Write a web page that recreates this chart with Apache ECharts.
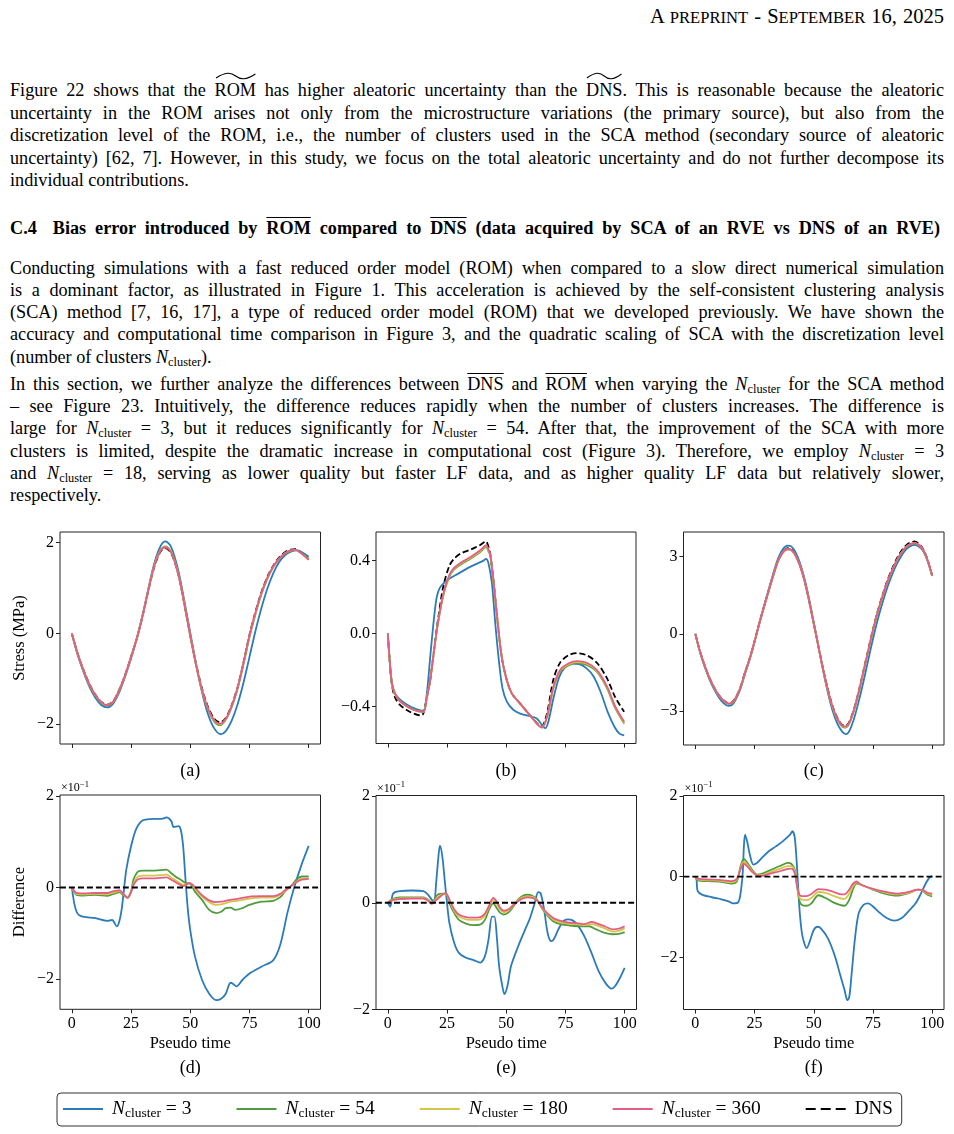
<!DOCTYPE html>
<html>
<head>
<meta charset="utf-8">
<script src="https://cdn.jsdelivr.net/npm/echarts@6/dist/echarts.min.js"></script>
<style>
  body { margin: 0; background: #fff; }
  .page { position: relative; width: 954px; height: 1134px; font-family: "Liberation Serif", "DejaVu Serif", serif; color: #000; }
  .ln { position: absolute; left: 10px; height: 23px; line-height: 23px; font-size: 18.2px; white-space: nowrap; }
  .hd { position: absolute; left: 650px; top: 4px; font-size: 20.5px; white-space: nowrap; line-height: 24px; }
  .hd .sc { font-size: 16.6px; }
  .wt { position: relative; display: inline-block; }
  .wt svg { position: absolute; left: 0; top: -7px; width: 100%; height: 8px; }
  .ol { text-decoration: overline; text-decoration-thickness: 1px; }
  sub { font-size: 0.68em; vertical-align: -0.25em; line-height: 0; }
  #chart { position: absolute; left: 0; top: 520px; width: 954px; height: 614px; }
</style>
</head>
<body>
<div class="page">
  <div class="hd j" data-w="294"><span>A <span class="sc">PREPRINT</span> - S<span class="sc">EPTEMBER</span> 16, 2025</span></div>

  <div class="ln j" style="top:79px"><span>Figure 22 shows that the <span class="wt">ROM<svg viewBox="0 0 40 8" preserveAspectRatio="none"><path d="M1,6 C10,0 15,0 20,4 C25,8 30,8 39,2" fill="none" stroke="#000" stroke-width="1.1"/></svg></span> has higher aleatoric uncertainty than the <span class="wt">DNS<svg viewBox="0 0 40 8" preserveAspectRatio="none"><path d="M1,6 C10,0 15,0 20,4 C25,8 30,8 39,2" fill="none" stroke="#000" stroke-width="1.1"/></svg></span>. This is reasonable because the aleatoric</span></div>
  <div class="ln j" style="top:102px"><span>uncertainty in the ROM arises not only from the microstructure variations (the primary source), but also from the</span></div>
  <div class="ln j" style="top:124px"><span>discretization level of the ROM, i.e., the number of clusters used in the SCA method (secondary source of aleatoric</span></div>
  <div class="ln j" style="top:147px"><span>uncertainty) [62, 7]. However, in this study, we focus on the total aleatoric uncertainty and do not further decompose its</span></div>
  <div class="ln" style="top:169px"><span>individual contributions.</span></div>

  <div class="ln j" data-w="930" style="top:217px;font-weight:bold"><span>C.4<span style="display:inline-block;width:16px"></span>Bias error introduced by <span class="ol">ROM</span> compared to <span class="ol">DNS</span> (data acquired by SCA of an RVE vs DNS of an RVE)</span></div>

  <div class="ln j" style="top:257px"><span>Conducting simulations with a fast reduced order model (ROM) when compared to a slow direct numerical simulation</span></div>
  <div class="ln j" style="top:279px"><span>is a dominant factor, as illustrated in Figure 1. This acceleration is achieved by the self-consistent clustering analysis</span></div>
  <div class="ln j" style="top:301px"><span>(SCA) method [7, 16, 17], a type of reduced order model (ROM) that we developed previously. We have shown the</span></div>
  <div class="ln j" style="top:323px"><span>accuracy and computational time comparison in Figure 3, and the quadratic scaling of SCA with the discretization level</span></div>
  <div class="ln" style="top:346px"><span>(number of clusters <i>N</i><sub>cluster</sub>).</span></div>

  <div class="ln j" style="top:373px"><span>In this section, we further analyze the differences between <span class="ol">DNS</span> and <span class="ol">ROM</span> when varying the <i>N</i><sub>cluster</sub> for the SCA method</span></div>
  <div class="ln j" style="top:395px"><span>– see Figure 23. Intuitively, the difference reduces rapidly when the number of clusters increases. The difference is</span></div>
  <div class="ln j" style="top:417px"><span>large for <i>N</i><sub>cluster</sub> = 3, but it reduces significantly for <i>N</i><sub>cluster</sub> = 54. After that, the improvement of the SCA with more</span></div>
  <div class="ln j" style="top:440px"><span>clusters is limited, despite the dramatic increase in computational cost (Figure 3). Therefore, we employ <i>N</i><sub>cluster</sub> = 3</span></div>
  <div class="ln j" style="top:462px"><span>and <i>N</i><sub>cluster</sub> = 18, serving as lower quality but faster LF data, and as higher quality LF data but relatively slower,</span></div>
  <div class="ln" style="top:484px"><span>respectively.</span></div>

  <div id="chart"></div>
</div>

<script>
// ---- data (x = pseudo time, y = stress in MPa / difference in 1e-1) ----

// (a)
const aBlue = [[0,0],[2.5,-0.48],[5,-0.86],[7.5,-1.18],[10,-1.42],[12.5,-1.58],[15,-1.63],[17.5,-1.54],[20,-1.3],[22.5,-0.95],[25,-0.55],[27.5,-0.1],[30,0.43],[32.5,1.03],[35,1.58],[37.5,1.93],[39.5,2.03],[42,1.9],[45,1.38],[47.5,0.72],[50,0.02],[52.5,-0.68],[55,-1.3],[57.5,-1.78],[60,-2.08],[62.8,-2.22],[65,-2.15],[67.5,-1.92],[70,-1.56],[72.5,-1.08],[75,-0.52],[77.5,0.05],[80,0.55],[82.5,0.98],[85,1.32],[87.5,1.57],[90,1.72],[92.5,1.8],[95,1.83],[97.5,1.78],[100,1.69]]
const aGreen = [[0,0],[2.5,-0.46],[5,-0.83],[7.5,-1.14],[10,-1.37],[12.5,-1.53],[15,-1.59],[17.5,-1.51],[20,-1.26],[22.5,-0.93],[25,-0.52],[27.5,-0.09],[30,0.43],[32.5,1.01],[35,1.54],[37.5,1.85],[39.5,1.92],[42,1.8],[45,1.31],[47.5,0.66],[50,-0.05],[52.5,-0.71],[55,-1.27],[57.5,-1.68],[60,-1.93],[62.5,-2.02],[65,-1.9],[67.5,-1.62],[70,-1.21],[72.5,-0.67],[75,-0.08],[77.5,0.42],[80,0.86],[82.5,1.2],[85,1.46],[87.5,1.64],[90,1.76],[92.5,1.82],[94.5,1.84],[97,1.77],[100,1.64]]
const aYellow = [[0,0],[2.5,-0.45],[5,-0.82],[7.5,-1.13],[10,-1.36],[12.5,-1.52],[15,-1.58],[17.5,-1.5],[20,-1.25],[22.5,-0.92],[25,-0.52],[27.5,-0.1],[30,0.42],[32.5,1.0],[35,1.53],[37.5,1.84],[39.5,1.91],[42,1.79],[45,1.3],[47.5,0.65],[50,-0.05],[52.5,-0.7],[55,-1.26],[57.5,-1.66],[60,-1.91],[62.5,-2.0],[65,-1.89],[67.5,-1.61],[70,-1.2],[72.5,-0.66],[75,-0.06],[77.5,0.44],[80,0.87],[82.5,1.21],[85,1.47],[87.5,1.65],[90,1.77],[92.5,1.83],[94.5,1.84],[97,1.76],[100,1.63]]
const aPink = [[0,0],[2.5,-0.45],[5,-0.82],[7.5,-1.13],[10,-1.36],[12.5,-1.52],[15,-1.58],[17.5,-1.5],[20,-1.25],[22.5,-0.92],[25,-0.52],[27.5,-0.1],[30,0.42],[32.5,1.0],[35,1.52],[37.5,1.83],[39.5,1.9],[42,1.78],[45,1.3],[47.5,0.65],[50,-0.05],[52.5,-0.7],[55,-1.25],[57.5,-1.65],[60,-1.9],[62.5,-1.99],[65,-1.88],[67.5,-1.6],[70,-1.2],[72.5,-0.65],[75,-0.05],[77.5,0.45],[80,0.88],[82.5,1.22],[85,1.47],[87.5,1.65],[90,1.77],[92.5,1.83],[94.5,1.84],[97,1.76],[100,1.62]]
const aDns = [[0,0],[2.5,-0.45],[5,-0.81],[7.5,-1.12],[10,-1.35],[12.5,-1.51],[15,-1.57],[17.5,-1.49],[20,-1.24],[22.5,-0.91],[25,-0.51],[27.5,-0.1],[30,0.41],[32.5,0.99],[35,1.5],[37.5,1.81],[39.5,1.88],[42,1.76],[45,1.29],[47.5,0.65],[50,-0.04],[52.5,-0.68],[55,-1.22],[57.5,-1.62],[60,-1.87],[62.5,-1.96],[65,-1.86],[67.5,-1.58],[70,-1.18],[72.5,-0.63],[75,-0.03],[77.5,0.47],[80,0.9],[82.5,1.24],[85,1.49],[87.5,1.67],[90,1.79],[92.5,1.85],[94.5,1.86],[97,1.78],[100,1.64]]

// (b)
const bBlue = [[0,0],[0.8,-0.15],[1.7,-0.27],[3,-0.33],[5,-0.36],[8,-0.39],[11,-0.41],[15,-0.425],[16.5,-0.33],[18,-0.12],[19.5,0.08],[20.7,0.2],[22,0.25],[24,0.28],[26,0.3],[30,0.33],[34,0.36],[38,0.385],[40.5,0.4],[41.5,0.41],[42.5,0.39],[44,0.28],[45.5,0.05],[47,-0.15],[48.5,-0.3],[50.4,-0.375],[53.2,-0.42],[56,-0.44],[58.8,-0.45],[63,-0.467],[66.6,-0.52],[68,-0.48],[70,-0.36],[72.5,-0.24],[75,-0.185],[78,-0.165],[81,-0.168],[84,-0.19],[87,-0.235],[90,-0.32],[93,-0.43],[96,-0.515],[98,-0.55],[100,-0.56]]
const bGreen = [[0,0],[0.8,-0.15],[1.7,-0.27],[3,-0.33],[5,-0.37],[8,-0.4],[11,-0.42],[15,-0.43],[16.5,-0.35],[18,-0.25],[20,-0.05],[21.5,0.08],[23.5,0.21],[26,0.31],[28,0.35],[31,0.38],[35,0.41],[39,0.445],[41.7,0.475],[42.6,0.45],[43.3,0.43],[44.7,0.28],[46.1,0.1],[48.2,-0.13],[50.4,-0.26],[52.5,-0.33],[56,-0.385],[60.2,-0.45],[65.2,-0.515],[67.3,-0.46],[70.1,-0.3],[72.9,-0.21],[76.4,-0.175],[80,-0.163],[84.2,-0.172],[88.4,-0.21],[92.7,-0.3],[96.2,-0.41],[100,-0.495]]
const bYellow = [[0,0],[0.8,-0.15],[1.7,-0.27],[3,-0.33],[5,-0.37],[8,-0.4],[11,-0.42],[15,-0.43],[16.5,-0.35],[18,-0.25],[20,-0.05],[21.5,0.08],[23.5,0.215],[26,0.315],[28,0.355],[31,0.385],[35,0.415],[39,0.45],[41.7,0.48],[42.6,0.455],[43.3,0.435],[44.7,0.285],[46.1,0.105],[48.2,-0.13],[50.4,-0.26],[52.5,-0.33],[56,-0.385],[60.2,-0.45],[65.2,-0.516],[67.3,-0.46],[70.1,-0.295],[72.9,-0.205],[76.4,-0.17],[80,-0.157],[84.2,-0.166],[88.4,-0.205],[92.7,-0.295],[96.2,-0.405],[100,-0.49]]
const bPink = [[0,0],[0.8,-0.15],[1.7,-0.27],[3,-0.33],[5,-0.37],[8,-0.4],[11,-0.42],[15,-0.43],[16.5,-0.35],[18,-0.25],[20,-0.05],[21.5,0.08],[23.5,0.22],[26,0.32],[28,0.36],[31,0.39],[35,0.42],[39,0.455],[41.7,0.485],[42.6,0.46],[43.3,0.44],[44.7,0.29],[46.1,0.11],[48.2,-0.13],[50.4,-0.26],[52.5,-0.33],[56,-0.385],[60.2,-0.45],[65.2,-0.517],[67.3,-0.46],[70.1,-0.29],[72.9,-0.2],[76.4,-0.165],[80,-0.152],[84.2,-0.161],[88.4,-0.2],[92.7,-0.29],[96.2,-0.4],[100,-0.485]]
const bDns = [[0,0],[0.8,-0.15],[1.7,-0.28],[3,-0.35],[5,-0.39],[8,-0.42],[11,-0.44],[14,-0.45],[15,-0.44],[16.5,-0.35],[18,-0.25],[20,-0.04],[21.5,0.1],[23.5,0.26],[26,0.37],[28,0.41],[31,0.44],[35,0.46],[39,0.485],[41.5,0.505],[42.5,0.48],[43.3,0.44],[44.7,0.29],[46.1,0.11],[48.2,-0.13],[50.4,-0.26],[52.5,-0.33],[56,-0.385],[60.2,-0.45],[65,-0.51],[67.3,-0.44],[70.1,-0.25],[72.9,-0.16],[76.4,-0.12],[80,-0.108],[84.2,-0.12],[88.4,-0.16],[92.7,-0.245],[96.2,-0.35],[100,-0.43]]

// (c)
const cBlue = [[0,0],[2,-0.72],[4,-1.3],[6,-1.78],[8,-2.17],[10,-2.48],[12,-2.7],[14,-2.8],[15.5,-2.76],[17,-2.56],[19,-2.15],[21,-1.55],[23,-0.98],[25,-0.32],[27,0.4],[29,1.08],[31,1.74],[33,2.38],[35,2.95],[37,3.3],[39,3.43],[40.5,3.4],[42,3.22],[44,2.8],[46,2.18],[48,1.38],[50,0.45],[52,-0.5],[54,-1.45],[56,-2.3],[58,-3.0],[60,-3.5],[62,-3.8],[63.5,-3.9],[65,-3.78],[67,-3.3],[69,-2.62],[71,-1.85],[73,-1.02],[75,-0.2],[77,0.55],[79,1.2],[81,1.78],[83,2.28],[85,2.7],[87,3.03],[89,3.28],[91,3.42],[92.5,3.46],[94,3.42],[96,3.25],[98,2.85],[100,2.25]]
const cGreen = [[0,0],[2,-0.7],[4,-1.26],[6,-1.73],[8,-2.11],[10,-2.41],[12,-2.61],[14,-2.72],[15.5,-2.69],[17,-2.51],[19,-2.11],[21,-1.51],[23,-0.96],[25,-0.31],[27,0.39],[29,1.04],[31,1.67],[33,2.29],[35,2.84],[37,3.17],[39,3.29],[40.5,3.26],[42,3.09],[44,2.69],[46,2.09],[48,1.29],[50,0.39],[52,-0.51],[54,-1.42],[56,-2.22],[58,-2.88],[60,-3.34],[62,-3.6],[63.5,-3.64],[65,-3.49],[67,-2.98],[69,-2.28],[71,-1.48],[73,-0.68],[75,0.12],[77,0.83],[79,1.43],[81,1.98],[83,2.44],[85,2.84],[87,3.14],[89,3.37],[91,3.49],[92.5,3.52],[94,3.47],[96,3.29],[98,2.87],[100,2.26]]
const cYellow = [[0,0],[2,-0.7],[4,-1.25],[6,-1.72],[8,-2.1],[10,-2.4],[12,-2.6],[14,-2.71],[15.5,-2.68],[17,-2.5],[19,-2.1],[21,-1.5],[23,-0.95],[25,-0.3],[27,0.4],[29,1.05],[31,1.68],[33,2.3],[35,2.85],[37,3.18],[39,3.3],[40.5,3.27],[42,3.1],[44,2.7],[46,2.1],[48,1.3],[50,0.4],[52,-0.5],[54,-1.41],[56,-2.21],[58,-2.86],[60,-3.32],[62,-3.58],[63.5,-3.62],[65,-3.47],[67,-2.96],[69,-2.26],[71,-1.46],[73,-0.66],[75,0.14],[77,0.84],[79,1.44],[81,1.99],[83,2.45],[85,2.85],[87,3.15],[89,3.38],[91,3.5],[92.5,3.53],[94,3.48],[96,3.3],[98,2.88],[100,2.26]]
const cPink = [[0,0],[2,-0.7],[4,-1.25],[6,-1.72],[8,-2.1],[10,-2.4],[12,-2.6],[14,-2.71],[15.5,-2.68],[17,-2.5],[19,-2.1],[21,-1.5],[23,-0.95],[25,-0.3],[27,0.4],[29,1.05],[31,1.68],[33,2.3],[35,2.85],[37,3.18],[39,3.3],[40.5,3.27],[42,3.1],[44,2.7],[46,2.1],[48,1.3],[50,0.4],[52,-0.5],[54,-1.4],[56,-2.2],[58,-2.85],[60,-3.3],[62,-3.57],[63.5,-3.6],[65,-3.45],[67,-2.95],[69,-2.25],[71,-1.45],[73,-0.65],[75,0.15],[77,0.85],[79,1.45],[81,2.0],[83,2.45],[85,2.85],[87,3.15],[89,3.38],[91,3.5],[92.5,3.53],[94,3.48],[96,3.3],[98,2.88],[100,2.26]]
const cDns = [[0,0],[2,-0.69],[4,-1.24],[6,-1.71],[8,-2.09],[10,-2.39],[12,-2.59],[14,-2.69],[15.5,-2.66],[17,-2.48],[19,-2.08],[21,-1.48],[23,-0.93],[25,-0.28],[27,0.42],[29,1.07],[31,1.7],[33,2.32],[35,2.87],[37,3.2],[39,3.33],[40.5,3.3],[42,3.12],[44,2.72],[46,2.11],[48,1.31],[50,0.41],[52,-0.49],[54,-1.38],[56,-2.17],[58,-2.82],[60,-3.27],[62,-3.54],[63.5,-3.57],[65,-3.42],[67,-2.92],[69,-2.22],[71,-1.42],[73,-0.62],[75,0.18],[77,0.88],[79,1.49],[81,2.05],[83,2.51],[85,2.91],[87,3.22],[89,3.44],[91,3.56],[92.5,3.59],[94,3.53],[96,3.33],[98,2.9],[100,2.27]]

// (d) difference x1e-1
const dBlue = [[0,0],[1,-0.34],[2,-0.53],[3,-0.6],[5,-0.64],[10,-0.67],[15,-0.73],[17,-0.71],[19,-0.85],[20,-0.75],[21,-0.49],[22,-0.05],[23,0.39],[25,0.9],[27,1.26],[29,1.43],[31,1.48],[35,1.5],[38,1.5],[40,1.53],[42,1.45],[43,1.32],[45,1.34],[46,1.26],[47,0.9],[48,0.17],[49,-0.49],[50,-0.93],[52,-1.51],[55,-2.02],[58,-2.32],[61,-2.46],[63,-2.43],[65,-2.32],[67,-2.08],[68,-2.1],[69.5,-2.16],[72,-2.02],[75,-1.88],[80,-1.73],[85,-1.59],[88,-1.25],[91,-0.56],[94,0.02],[97,0.5],[100,0.91]]
const dGreen = [[0,0],[2,-0.16],[5,-0.175],[10,-0.16],[15,-0.18],[17,-0.15],[19,-0.12],[20,-0.1],[22,-0.18],[23.5,-0.23],[25,-0.09],[26,0.17],[27,0.28],[28,0.35],[30,0.37],[35,0.37],[40,0.39],[42,0.31],[44,0.23],[46,0.17],[48,0.1],[50,0.08],[52,-0.09],[55,-0.27],[58,-0.49],[61,-0.56],[63,-0.53],[65,-0.45],[67,-0.44],[69,-0.49],[72,-0.45],[75,-0.38],[80,-0.31],[85,-0.29],[88,-0.21],[90,-0.09],[93,0.06],[95,0.18],[97,0.24],[100,0.24]]
const dYellow = [[0,0],[2,-0.14],[5,-0.15],[10,-0.14],[15,-0.15],[17,-0.12],[19,-0.09],[20,-0.08],[22,-0.16],[23.5,-0.22],[25,-0.1],[26,0.07],[27,0.18],[28,0.24],[30,0.26],[35,0.26],[40,0.28],[42,0.22],[45,0.12],[47,0.06],[48,0.06],[49.5,0.1],[51,0.05],[52,-0.02],[55,-0.2],[58,-0.32],[61,-0.38],[63,-0.37],[65,-0.34],[67,-0.31],[70,-0.29],[75,-0.24],[80,-0.22],[85,-0.22],[88,-0.16],[90,-0.08],[93,0.05],[95,0.13],[97,0.19],[100,0.21]]
const dPink = [[0,0],[2,-0.12],[5,-0.13],[10,-0.12],[15,-0.12],[17,-0.09],[19,-0.07],[20,-0.06],[22,-0.15],[23.5,-0.22],[25,-0.1],[26,0.05],[27,0.13],[28,0.18],[30,0.2],[35,0.2],[40,0.22],[42,0.17],[45,0.08],[47,0.03],[48,0.05],[49.5,0.1],[51,0.06],[52,0.0],[55,-0.17],[58,-0.28],[61,-0.32],[63,-0.31],[65,-0.29],[67,-0.27],[70,-0.25],[75,-0.2],[80,-0.19],[85,-0.19],[88,-0.14],[90,-0.06],[93,0.05],[95,0.12],[97,0.17],[100,0.19]]

// (e)
const eBlue = [[0,0],[1,-0.07],[2,0.15],[3,0.2],[5,0.22],[10,0.23],[15,0.22],[17,0.15],[18.5,0.06],[19.5,0.025],[20.5,0.43],[21.5,0.93],[22,1.07],[23,0.87],[24,0.43],[25,-0.01],[26,-0.38],[28,-0.75],[30,-0.94],[33,-1.03],[36,-1.07],[39,-1.12],[41,-1.0],[42.5,-0.69],[44,-0.26],[45,-0.26],[46,-0.63],[47,-1.19],[48.5,-1.6],[49.2,-1.71],[50.5,-1.56],[52,-1.19],[55,-0.82],[58,-0.5],[60,-0.29],[62,-0.01],[63.5,0.2],[64.5,0.18],[66,-0.13],[67.5,-0.57],[69,-0.72],[70,-0.69],[72,-0.5],[74,-0.35],[76,-0.31],[78,-0.33],[80,-0.41],[83,-0.63],[86,-0.94],[89,-1.28],[92,-1.51],[94.5,-1.61],[96,-1.56],[98,-1.41],[100,-1.22]]
const eGreen = [[0,0],[2,0.07],[5,0.1],[10,0.1],[15,0.1],[17,0.06],[18.5,0.0],[19.5,0.05],[21,0.15],[23,0.17],[24.5,0.17],[26,-0.01],[28,-0.19],[30,-0.32],[33,-0.39],[36,-0.42],[39,-0.41],[41,-0.32],[43,-0.1],[44.5,-0.01],[46,-0.1],[47.5,-0.19],[49,-0.22],[51,-0.18],[53,-0.07],[55,0.06],[57,0.13],[59,0.15],[61,0.13],[63,0.06],[65,-0.1],[67,-0.22],[70,-0.35],[73,-0.4],[76,-0.42],[80,-0.44],[85,-0.44],[88,-0.5],[92,-0.57],[95,-0.59],[98,-0.58],[100,-0.55]]
const eYellow = [[0,0],[2,0.06],[5,0.08],[10,0.09],[15,0.09],[17,0.05],[18.5,-0.01],[19.5,0.03],[21,0.1],[23,0.16],[24.5,0.17],[26,0.03],[28,-0.15],[30,-0.26],[33,-0.31],[36,-0.32],[39,-0.31],[41,-0.24],[43,-0.05],[44.5,0.05],[46,-0.02],[47.5,-0.13],[49,-0.18],[51,-0.14],[53,-0.05],[55,0.04],[57,0.1],[59,0.12],[61,0.11],[63,0.05],[65,-0.09],[67,-0.2],[70,-0.32],[73,-0.37],[76,-0.39],[80,-0.4],[83,-0.42],[86,-0.4],[88,-0.42],[92,-0.49],[95,-0.54],[98,-0.52],[100,-0.48]]
const ePink = [[0,0],[2,0.05],[5,0.07],[10,0.08],[15,0.08],[17,0.04],[18.5,-0.02],[19.5,0.02],[21,0.07],[23,0.15],[24.5,0.18],[26,0.06],[28,-0.12],[30,-0.22],[33,-0.27],[36,-0.28],[39,-0.27],[41,-0.2],[43,-0.03],[44.5,0.09],[46,0.02],[47.5,-0.1],[49,-0.15],[51,-0.12],[53,-0.04],[55,0.03],[57,0.08],[59,0.1],[61,0.09],[63,0.04],[65,-0.08],[67,-0.18],[70,-0.29],[73,-0.34],[76,-0.37],[80,-0.38],[83,-0.4],[86,-0.36],[88,-0.38],[92,-0.45],[95,-0.5],[98,-0.48],[100,-0.44]]

// (f)
const fBlue = [[0,0],[0.5,-0.07],[1,-0.36],[3,-0.45],[7,-0.51],[11,-0.56],[14,-0.61],[16,-0.66],[18,-0.64],[19,-0.45],[20,0.09],[20.5,0.75],[21,1.04],[22,0.84],[23,0.55],[24.5,0.3],[26,0.34],[28,0.46],[31,0.63],[34,0.75],[37,0.88],[40,1.04],[41,1.13],[42,0.96],[43,0.17],[44,-0.82],[45,-1.4],[46,-1.65],[47,-1.77],[48.5,-1.57],[50,-1.32],[51.5,-1.24],[53,-1.28],[56,-1.53],[59,-1.98],[61,-2.4],[63,-2.81],[64.2,-3.06],[65,-2.98],[66,-2.4],[67.5,-1.48],[69,-0.9],[71,-0.7],[73,-0.66],[75,-0.74],[78,-0.9],[81,-1.03],[84,-1.09],[87,-1.03],[90,-0.86],[93,-0.66],[95,-0.45],[97,-0.2],[99,-0.01],[100,0.01]]
const fGreen = [[0,0],[1,-0.09],[5,-0.11],[10,-0.12],[15,-0.17],[17,-0.15],[18,-0.05],[19,0.24],[20.5,0.44],[22,0.34],[24,0.17],[26,0.05],[28,0.07],[32,0.17],[36,0.27],[39,0.34],[40.5,0.32],[42,0.17],[43,-0.24],[44,-0.61],[45,-0.7],[47,-0.72],[49,-0.66],[52,-0.46],[55,-0.53],[58,-0.63],[61,-0.7],[63,-0.72],[65,-0.57],[66.5,-0.32],[68,-0.17],[70,-0.2],[75,-0.32],[80,-0.42],[85,-0.47],[90,-0.41],[94,-0.32],[96,-0.35],[98,-0.45],[100,-0.49]]
const fYellow = [[0,0],[1,-0.07],[5,-0.09],[10,-0.1],[15,-0.14],[17,-0.11],[18,-0.02],[19,0.2],[20.5,0.37],[22,0.29],[24,0.14],[26,0.04],[28,0.04],[32,0.12],[36,0.2],[39,0.26],[40.5,0.26],[42,0.12],[43,-0.25],[44,-0.52],[45,-0.57],[47,-0.58],[49,-0.53],[52,-0.38],[55,-0.4],[58,-0.47],[61,-0.53],[63,-0.55],[65,-0.42],[66.5,-0.24],[68,-0.14],[70,-0.2],[75,-0.31],[80,-0.39],[85,-0.44],[90,-0.4],[94,-0.32],[96,-0.34],[98,-0.42],[100,-0.45]]
const fPink = [[0,0],[1,-0.05],[5,-0.07],[10,-0.08],[15,-0.11],[17,-0.08],[18,0.0],[19,0.17],[20.5,0.32],[22,0.25],[24,0.12],[26,0.03],[28,0.02],[32,0.08],[36,0.14],[39,0.19],[40.5,0.2],[42,0.08],[43,-0.25],[44,-0.45],[45,-0.48],[47,-0.48],[49,-0.43],[52,-0.31],[55,-0.32],[58,-0.37],[61,-0.43],[63,-0.44],[65,-0.32],[66.5,-0.18],[68,-0.12],[70,-0.2],[75,-0.3],[80,-0.37],[85,-0.42],[90,-0.38],[94,-0.32],[96,-0.33],[98,-0.4],[100,-0.42]]

// DNS reference line of the difference plots
const diffDns = [[-5,0],[105,0]]

// axes
const xTicks = [0, 25, 50, 75, 100]
const yTicks = [[-2, 0, 2], [-0.4, 0, 0.4], [-3, 0, 3], [-2, 0, 2], [-2, 0, 2], [-2, 0, 2]]
const yRange = [[-2.435, 2.236], [-0.604, 0.557], [-4.32, 3.96], [-2.66, 2.02], [-2, 2.01], [-3.29, 2.01]]
const captions = ['(a)', '(b)', '(c)', '(d)', '(e)', '(f)']
const seriesNames = ['n3', 'n54', 'n180', 'n360', 'DNS']
const clusterCounts = { n3: 3, n54: 54, n180: 180, n360: 360 }
const plotData = [
  [aBlue, aGreen, aYellow, aPink, aDns],
  [bBlue, bGreen, bYellow, bPink, bDns],
  [cBlue, cGreen, cYellow, cPink, cDns],
  [dBlue, dGreen, dYellow, dPink, diffDns],
  [eBlue, eGreen, eYellow, ePink, diffDns],
  [fBlue, fGreen, fYellow, fPink, diffDns]
]

const colors = ['#2b7bba', '#4f9c3c', '#d5c64b', '#e55c84', '#000000']
const FONT = '"Liberation Serif", "DejaVu Serif", serif'
const INK = '#222'
const SOLID_ICON = 'path://M0,0H40V2H0Z'
const DASH_ICON = 'path://M0,0H10V2H0Z M15,0H25V2H15Z M30,0H40V2H30Z'

// justify the text lines to the column width
document.querySelectorAll('.j').forEach(div => {
  const span = div.firstElementChild
  const target = Number(div.dataset.w || 934)
  const spaces = (span.textContent.match(/ /g) || []).length
  const w = span.getBoundingClientRect().width
  if (spaces) span.style.wordSpacing = ((target - w) / spaces) + 'px'
})

// grid boxes (page y minus 520)
const grids = [
  { left: 60, top: 12, width: 260.5, height: 212 },
  { left: 376, top: 12, width: 260, height: 211.5 },
  { left: 683.5, top: 12, width: 260.5, height: 213 },
  { left: 60, top: 275, width: 260.5, height: 214.3 },
  { left: 376, top: 275.5, width: 260.5, height: 214 },
  { left: 683.5, top: 275.5, width: 260.5, height: 214 }
].map(g => Object.assign(g, { show: true, borderColor: INK, borderWidth: 1, backgroundColor: 'transparent', outerBoundsMode: 'none' }))

const fmtMinus = (v, i) => {
  if (i === 1) return v === 0 ? '0.0' : (v < 0 ? '\u2212' + Math.abs(v).toFixed(1) : v.toFixed(1))
  return v < 0 ? '\u2212' + Math.abs(v) : String(v)
}

const xAxes = grids.map((g, i) => ({
  type: 'value', gridIndex: i, min: -5, max: 105,
  axisLine: { show: false, onZero: false },
  splitLine: { show: false },
  axisTick: { show: true, inside: false, length: 4, customValues: xTicks, lineStyle: { color: INK, width: 1 } },
  axisLabel: { show: i >= 3, customValues: xTicks, margin: 6, color: '#000', fontFamily: FONT, fontSize: 16 },
  name: i >= 3 ? 'Pseudo time' : '',
  nameLocation: 'middle', nameGap: 26,
  nameTextStyle: { color: '#000', fontFamily: FONT, fontSize: 16.5 }
}))

const yAxes = grids.map((g, i) => {
  const ax = {
    type: 'value', gridIndex: i, min: yRange[i][0], max: yRange[i][1],
    axisLine: { show: false, onZero: false },
    splitLine: { show: false },
    axisTick: { show: true, inside: false, length: 4, customValues: yTicks[i], lineStyle: { color: INK, width: 1 } },
    axisLabel: { customValues: yTicks[i], margin: 6, color: '#000', fontFamily: FONT, fontSize: 16, formatter: v => fmtMinus(v, i) }
  }
  if (i === 0 || i === 3) {
    ax.name = i === 0 ? 'Stress (MPa)' : 'Difference'
    ax.nameLocation = 'middle'
    ax.nameGap = 32
    ax.nameTextStyle = { color: '#000', fontFamily: FONT, fontSize: 16.5 }
  }
  return ax
})

// offset text (x10^-1) of the difference plots
const offsetTexts = [3, 4, 5].map(i => ({
  type: 'text', left: grids[i].left + 1, top: grids[i].top - 13,
  style: { text: '\u00d710', font: '12px ' + FONT, fill: '#000' }
}))
const offsetSups = [3, 4, 5].map(i => ({
  type: 'text', left: grids[i].left + 20, top: grids[i].top - 15,
  style: { text: '\u22121', font: '8.5px ' + FONT, fill: '#000' }
}))

const series = []
plotData.forEach((set, i) => {
  set.forEach((data, k) => {
    const isDns = k === 4
    series.push({
      type: 'line', name: seriesNames[k], xAxisIndex: i, yAxisIndex: i,
      data, showSymbol: false, symbol: 'none', smooth: 0.3,
      clip: true, silent: true,
      z: isDns ? (i < 3 ? 1 : 6) : 2 + k,
      lineStyle: { color: colors[k], width: 1.8, type: isDns ? [6, 3] : 'solid' },
      itemStyle: { color: colors[k] }
    })
  })
})

const captionGraphics = grids.map((g, i) => ({
  type: 'text', x: g.left + g.width / 2, y: i < 3 ? 251 : 548,
  style: { text: captions[i], font: '18px ' + FONT, fill: '#000', align: 'center', verticalAlign: 'middle' }
}))

const chart = echarts.init(document.getElementById('chart'), null, { renderer: 'canvas' })
chart.setOption({
  animation: false,
  backgroundColor: 'transparent',
  grid: grids,
  xAxis: xAxes,
  yAxis: yAxes,
  series,
  legend: {
    data: seriesNames.map(n => ({ name: n, icon: n === 'DNS' ? DASH_ICON : SOLID_ICON })),
    left: 57, top: 573,
    padding: [6, 9, 6, 6],
    itemGap: 45,
    itemWidth: 40,
    itemHeight: 2.2,
    borderColor: '#333', borderWidth: 1, borderRadius: 4,
    selectedMode: false,
    formatter: name => name === 'DNS' ? 'DNS' : '{n|N}{s|cluster}{e| = ' + clusterCounts[name] + '}',
    textStyle: {
      color: '#000', fontFamily: FONT, fontSize: 19, padding: [0, 0, 0, 4],
      rich: {
        n: { fontFamily: FONT, fontSize: 19.5, fontStyle: 'italic', lineHeight: 22 },
        s: { fontFamily: FONT, fontSize: 13.5, lineHeight: 10, verticalAlign: 'bottom' },
        e: { fontFamily: FONT, fontSize: 19.5, lineHeight: 22 }
      }
    }
  },
  graphic: captionGraphics.concat(offsetTexts, offsetSups)
})
</script>
</body>
</html>
